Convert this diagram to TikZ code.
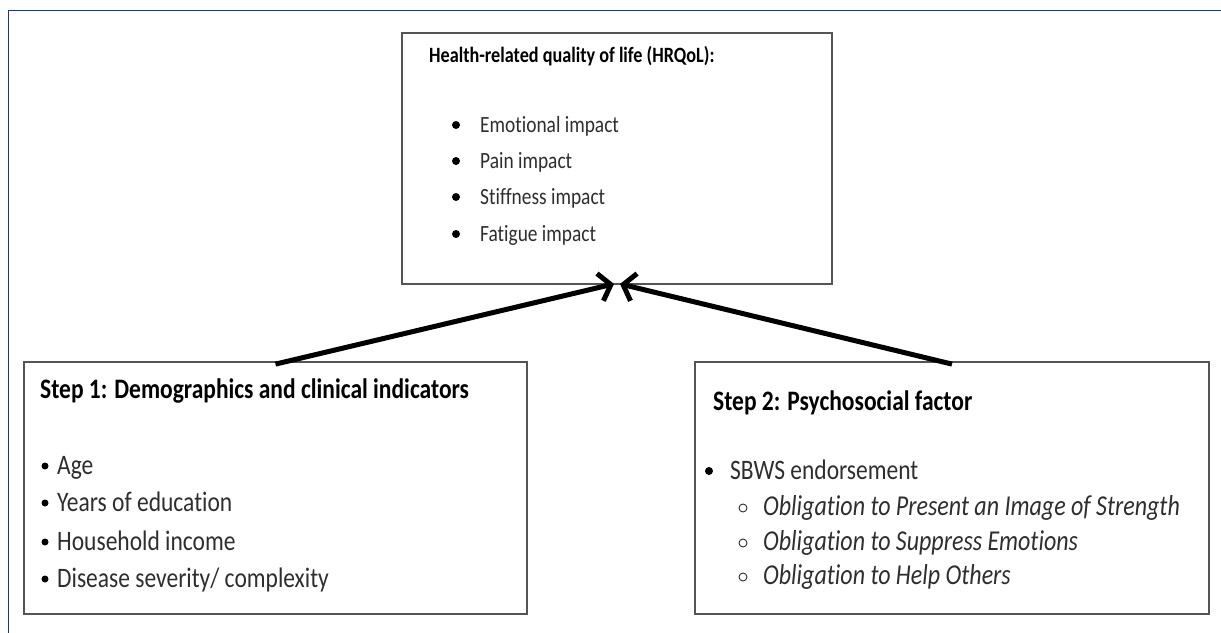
\documentclass[tikz,border=0pt]{standalone}
\usepackage{graphicx}
\usepackage{fontspec}
\setmainfont{Carlito}[Ligatures=NoCommon]
\usetikzlibrary{arrows.meta}
\definecolor{framenavy}{HTML}{1F3A6B}
\definecolor{boxline}{HTML}{555555}
\definecolor{bodytext}{HTML}{2E2E2E}
% text in this figure is set slightly taller than the font's natural shape
\newcommand{\vstretch}[1]{\scalebox{1}[1.2]{#1}}
\tikzset{
  panel/.style={draw=boxline, line width=1.8pt, rectangle, inner sep=0pt},
  heading/.style={anchor=base west, inner sep=0pt, font=\bfseries\fontsize{18.2}{22}\selectfont},
  bigheading/.style={heading, font=\bfseries\fontsize{23.5}{28}\selectfont},
  item/.style={anchor=base west, inner sep=0pt, text=bodytext, font=\fontsize{19.4}{23}\selectfont},
  bigitem/.style={item, font=\fontsize{23.5}{28}\selectfont},
  subitem/.style={item, font=\itshape\fontsize{24}{28}\selectfont},
  dot/.style={circle, fill=black, inner sep=0pt, minimum size=8pt},
  ring/.style={circle, draw=bodytext, line width=0.9pt, inner sep=0pt, minimum size=8pt},
  link/.style={line width=5pt, -{Straight Barb[length=11pt, width=28pt]}}
}
\begin{document}
\begin{tikzpicture}[x=1pt, y=-1pt]
  \useasboundingbox (0,0) rectangle (1221,632);
  % page frame: top and left rules only
  \draw[framenavy, line width=1.6pt] (8.5,640) -- (8.5,10.5) -- (1230,10.5);

  % the three boxes
  \node[panel, minimum width=430pt, minimum height=251pt] (hrqol) at (617,158.5) {};
  \node[panel, minimum width=503pt, minimum height=252pt] (step1) at (275.5,488) {};
  \node[panel, minimum width=514pt, minimum height=252pt] (step2) at (952,488) {};

  % outcome box
  \node[heading] (t0) at (429,62) {\vstretch{Health-related quality of life (HRQoL):}};
  \node[dot] (b1) at (456,125) {};
  \node[dot] (b2) at (456,161) {};
  \node[dot] (b3) at (456,197) {};
  \node[dot] (b4) at (456,234) {};
  \node[item] (e1) at (480,132) {\vstretch{Emotional impact}};
  \node[item] (e2) at (480,168) {\vstretch{Pain impact}};
  \node[item] (e3) at (480,204) {\vstretch{Stiffness impact}};
  \node[item] (e4) at (480,241) {\vstretch{Fatigue impact}};

  % step 1
  \node[bigheading] (t1) at (40,398) {\vstretch{Step 1: Demographics and clinical indicators}};
  \node[dot, minimum size=7pt] (c1) at (45,466) {};
  \node[dot, minimum size=7pt] (c2) at (45,503) {};
  \node[dot, minimum size=7pt] (c3) at (45,542) {};
  \node[dot, minimum size=7pt] (c4) at (45,579) {};
  \node[bigitem] (d1) at (57,474) {\vstretch{Age}};
  \node[bigitem] (d2) at (57,511) {\vstretch{Years of education}};
  \node[bigitem] (d3) at (57,550) {\vstretch{Household income}};
  \node[bigitem] (d4) at (57,587) {\vstretch{Disease severity/ complexity}};

  % step 2
  \node[bigheading] (t2) at (713,410) {\vstretch{Step 2: Psychosocial factor}};
  \node[dot] (s0) at (709,471) {};
  \node[bigitem] (f0) at (730,479) {\vstretch{SBWS endorsement}};
  \node[ring] (r1) at (743,508) {};
  \node[ring] (r2) at (743,543) {};
  \node[ring] (r3) at (743,577) {};
  \node[subitem] (g1) at (763,515) {\vstretch{Obligation to Present an Image of Strength}};
  \node[subitem] (g2) at (763,550) {\vstretch{Obligation to Suppress Emotions}};
  \node[subitem] (g3) at (763,584) {\vstretch{Obligation to Help Others}};

  % connectors into the outcome box
  \draw[link] ([yshift=-3pt]step1.north) -- ([xshift=-3pt, yshift=1pt]hrqol.south);
  \draw[link] ([yshift=-3pt]step2.north) -- ([xshift=3pt, yshift=1pt]hrqol.south);
\end{tikzpicture}
\end{document}
